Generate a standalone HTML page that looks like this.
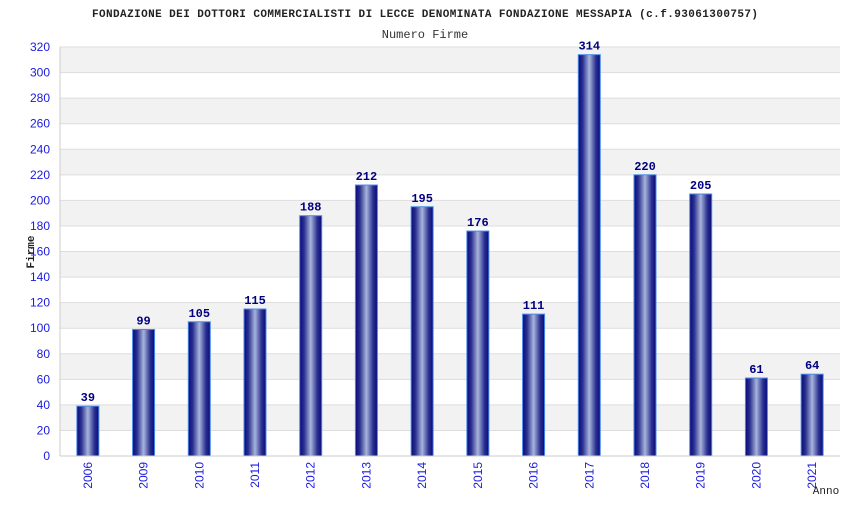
<!DOCTYPE html>
<html><head><meta charset="utf-8"><style>body{margin:0;background:#fff}</style></head><body>
<svg width="850" height="500" xmlns="http://www.w3.org/2000/svg">
<defs><linearGradient id="g" x1="0" x2="1" y1="0" y2="0">
<stop offset="0" stop-color="#0a0a78"/><stop offset="0.2" stop-color="#2a3090"/><stop offset="0.5" stop-color="#a8b4dc"/><stop offset="0.8" stop-color="#2a3090"/><stop offset="1" stop-color="#0a0a78"/></linearGradient></defs>
<text x="425" y="17" font-family="Liberation Mono,monospace" font-size="11" font-weight="bold" text-anchor="middle" fill="#222" textLength="666">FONDAZIONE DEI DOTTORI COMMERCIALISTI DI LECCE DENOMINATA FONDAZIONE MESSAPIA (c.f.93061300757)</text>
<text x="425" y="38" font-family="Liberation Mono,monospace" font-size="12" text-anchor="middle" fill="#333">Numero Firme</text>
<g id="grid"></g>
<g id="bars"></g>
<text transform="translate(34,252) rotate(-90)" font-family="Liberation Mono,monospace" font-size="11" font-weight="bold" text-anchor="middle" fill="#222">Firme</text>
<text x="826" y="494" font-family="Liberation Mono,monospace" font-size="11" text-anchor="middle" fill="#222">Anno</text>
<line x1="60" y1="47" x2="60" y2="456" stroke="#ccc"/>
<line x1="60" y1="456" x2="840" y2="456" stroke="#ccc"/>
</svg>
<script>
const ns="http://www.w3.org/2000/svg",s=document.querySelector('svg');
const y=v=>456-v*409/320;
const grid=document.getElementById('grid'),bars=document.getElementById('bars');
function el(t,a,p,txt){const e=document.createElementNS(ns,t);for(const k in a)e.setAttribute(k,a[k]);if(txt!=null)e.textContent=txt;p.appendChild(e);return e;}
for(let v=20;v<320;v+=40)el('rect',{x:60,y:y(v+20),width:780,height:y(v)-y(v+20),fill:'#f2f2f2'},grid);
for(let v=0;v<=320;v+=20){el('line',{x1:60,x2:840,y1:y(v),y2:y(v),stroke:'#ddd'},grid);
el('text',{x:50,y:y(v)+4,'text-anchor':'end','font-family':'Liberation Sans,sans-serif','font-size':12,fill:'#1a1ae0'},grid,v);}
const d=[[2006,39],[2009,99],[2010,105],[2011,115],[2012,188],[2013,212],[2014,195],[2015,176],[2016,111],[2017,314],[2018,220],[2019,205],[2020,61],[2021,64]];
d.forEach(([yr,v],i)=>{const c=60+780/14*(i+0.5);
el('rect',{x:c-11,y:y(v),width:22,height:456-y(v),fill:'url(#g)',stroke:'#4a8ae8','stroke-width':1},bars);
el('text',{x:c,y:y(v)-5,'text-anchor':'middle','font-family':'Liberation Mono,monospace','font-size':12,'font-weight':'bold',fill:'#000080'},bars,v);
el('text',{transform:`translate(${c+4},462) rotate(-90)`,'text-anchor':'end','font-family':'Liberation Sans,sans-serif','font-size':12,fill:'#1a1ae0'},bars,yr);});
</script>
</body></html>
